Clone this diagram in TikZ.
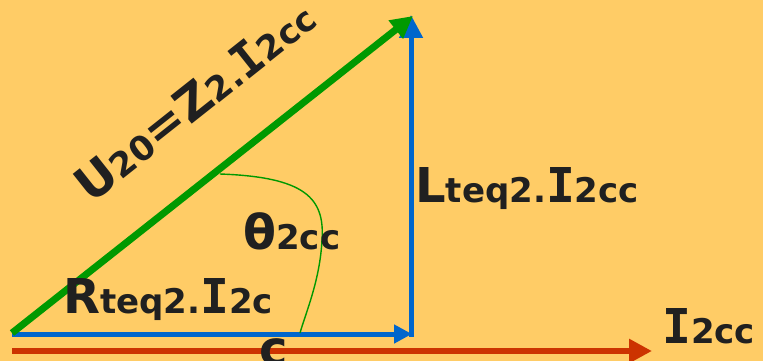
\documentclass[tikz,border=0pt]{standalone}
\usepackage{fontspec}
\setmainfont{DejaVu Sans}
\newfontfamily\serifcap{DejaVu Sans Mono}
\usetikzlibrary{arrows.meta}
\definecolor{bgyellow}{RGB}{255,204,102}
\definecolor{vgreen}{RGB}{0,153,0}
\definecolor{vblue}{RGB}{0,102,204}
\definecolor{vred}{RGB}{204,51,0}
\definecolor{txtgray}{RGB}{32,32,32}
\newcommand{\lrgtxt}{\fontsize{48}{50}\selectfont}
\newcommand{\smltxt}{\fontsize{34}{36}\selectfont}
\newcommand{\capI}{{\lrgtxt\serifcap\bfseries I}}
\begin{document}
\begin{tikzpicture}[x=1pt,y=-1pt,
  lbl/.style={text=txtgray,font=\bfseries,inner sep=0pt},
  tip/.style={-{Triangle[length=#1,width=#1]}}]
  \fill[bgyellow] (0,0) rectangle (763,361);
  \useasboundingbox (0,0) rectangle (763,361);
  \coordinate (o) at (12,333);
  \coordinate (h0) at (12,334);
  \coordinate (h1) at (412,334);
  \coordinate (v0) at (411,336.5);
  \coordinate (v1) at (411,15);
  \coordinate (u) at (413,16);
  \coordinate (i0) at (12,351);
  \coordinate (i1) at (652,351);
  % current axis and the triangle
  \draw[vred,line width=6pt,tip=23pt] (i0) -- (i1);
  \draw[vblue,line width=5pt,tip=18pt] (h0) -- (h1);
  \draw[vblue,line width=5pt,tip=23pt] (v0) -- (v1);
  \draw[vgreen,line width=7pt,tip=22pt] (o) -- (u);
  % angle
  \coordinate (a0) at (220,174);
  \coordinate (a1) at (300,333);
  \draw[vgreen,line width=1.4pt] (a0) .. controls (305,177) and (325,198) .. (322,240)
    .. controls (320,280) and (306,312) .. (a1);
  % labels
  \node[lbl,rotate=38.4,anchor=base] (uz) at (205,114)
    {{\lrgtxt U}{\smltxt 20}{\lrgtxt =Z}{\smltxt 2.}\capI{\smltxt 2cc}};
  \node[lbl,anchor=base west] (lt) at (415,202)
    {{\lrgtxt L}{\smltxt teq2.}\capI{\smltxt 2cc}};
  \node[lbl,anchor=base west] (th) at (243,249)
    {{\lrgtxt θ}{\smltxt 2cc}};
  \node[lbl,anchor=base west] (rt) at (63,313)
    {{\lrgtxt R}{\smltxt teq2.}\capI{\smltxt 2c}};
  \node[lbl,anchor=base west] (cc) at (259,365) {\lrgtxt c};
  \node[lbl,anchor=base west] (ic) at (662,343) {\capI{\smltxt 2cc}};
\end{tikzpicture}
\end{document}
